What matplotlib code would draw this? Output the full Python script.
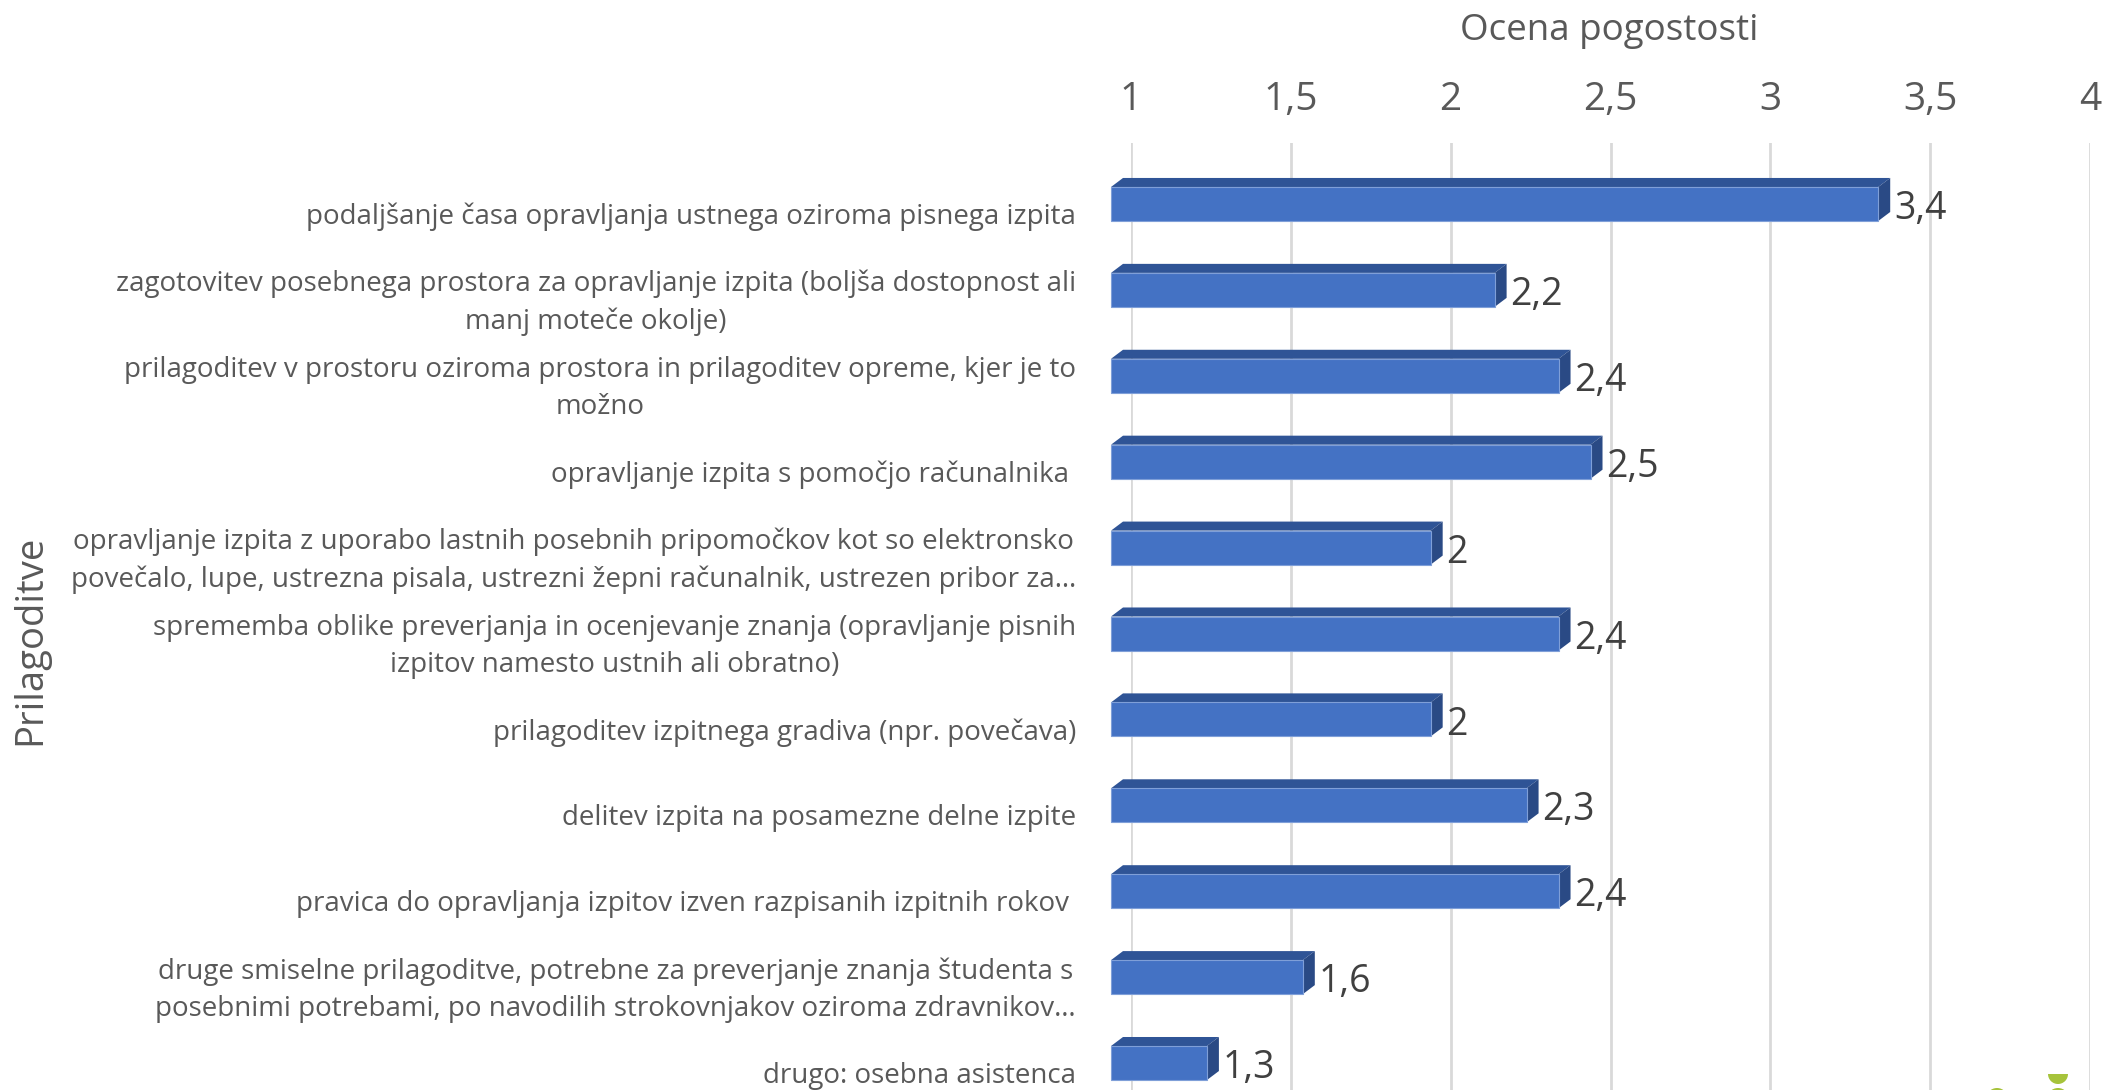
import matplotlib
matplotlib.use('Agg')
from matplotlib import pyplot as plt
from matplotlib.patches import Polygon, Wedge, Circle
import matplotlib.transforms as mtransforms

plt.rcParams['font.family'] = ['Open Sans', 'DejaVu Sans']

categories = [
    "podaljšanje časa opravljanja ustnega oziroma pisnega izpita",
    "zagotovitev posebnega prostora za opravljanje izpita (boljša dostopnost ali\nmanj moteče okolje)",
    "prilagoditev v prostoru oziroma prostora in prilagoditev opreme, kjer je to\nmožno",
    "opravljanje izpita s pomočjo računalnika ",
    "opravljanje izpita z uporabo lastnih posebnih pripomočkov kot so elektronsko\npovečalo, lupe, ustrezna pisala, ustrezni žepni računalnik, ustrezen pribor za…",
    "sprememba oblike preverjanja in ocenjevanje znanja (opravljanje pisnih\nizpitov namesto ustnih ali obratno)",
    "prilagoditev izpitnega gradiva (npr. povečava)",
    "delitev izpita na posamezne delne izpite",
    "pravica do opravljanja izpitov izven razpisanih izpitnih rokov ",
    "druge smiselne prilagoditve, potrebne za preverjanje znanja študenta s\nposebnimi potrebami, po navodilih strokovnjakov oziroma zdravnikov…",
    "drugo: osebna asistenca",
]
values = [3.4, 2.2, 2.4, 2.5, 2.0, 2.4, 2.0, 2.3, 2.4, 1.6, 1.3]
xticks = [1, 1.5, 2, 2.5, 3, 3.5, 4]
x_title = "Ocena pogostosti"
y_title = "Prilagoditve"

W, H = 2103, 1090
fig = plt.figure(figsize=(W / 100, H / 100), dpi=100)
ax = fig.add_axes([1131 / W, 0, (2090 - 1131) / W, 1 - 143 / H])

front_c = '#4472C4'
top_c = '#2F5496'
side_c = '#2A4A85'
ox = -0.0625     # front face shift (3d)
dx = 0.0375      # depth in x
dd = 0.105       # depth in y
h = 0.198        # half height of front face

for i, v in enumerate(values):
    x0, x1 = 1 + ox, v + ox
    front = Polygon([(x0, i - h), (x1, i - h), (x1, i + h), (x0, i + h)],
                    closed=True, fc=front_c, ec='#7f9fd8', lw=0.8, zorder=3, clip_on=False)
    top = Polygon([(x0, i - h), (x1, i - h), (x1 + dx, i - h - dd), (x0 + dx, i - h - dd)],
                  closed=True, fc=top_c, ec='none', zorder=3, clip_on=False)
    side = Polygon([(x1, i - h), (x1 + dx, i - h - dd), (x1 + dx, i + h - dd), (x1, i + h)],
                   closed=True, fc=side_c, ec='none', zorder=3, clip_on=False)
    for p in (top, side, front):
        ax.add_patch(p)
    ax.text(x1 + dx + 0.012, i + 0.06, f"{v:g}".replace('.', ','), fontsize=27,
            color='#404040', va='center', ha='left', zorder=4, clip_on=False)

ax.set_xlim(1, 4)
ax.set_ylim(10.314, -0.71)
ax.xaxis.tick_top()
ax.set_xticks(xticks)
ax.set_xticklabels([f"{t:g}".replace('.', ',') for t in xticks], fontsize=28, color='#595959')
ax.tick_params(axis='x', length=0, pad=17)
ax.set_yticks([])
ax.grid(axis='x', color='#D9D9D9', lw=2.0, zorder=0)
ax.set_axisbelow(True)
for s in ax.spines.values():
    s.set_visible(False)

# category labels
trans = mtransforms.blended_transform_factory(fig.transFigure, ax.transData)
for i, lab in enumerate(categories):
    ax.text(1076 / W, i + 0.15, lab, transform=trans, ha='right', va='center',
            multialignment='center', fontsize=20, color='#595959', linespacing=1.45,
            clip_on=False)

fig.text(1609 / W, 1 - 31 / H, x_title, fontsize=26.5, color='#595959', ha='center', va='center')
fig.text(30 / W, 1 - 640 / H, y_title, fontsize=27.5, color='#595959', ha='center', va='center',
         rotation=90)

# bit of the green logo peeking in at the bottom right
green = '#A6C33B'
fig.add_artist(Circle((1997, -9), 11, transform=None, fc=green, ec='none'))
fig.add_artist(Wedge((2058, 16), 10, 180, 360, transform=None, fc=green, ec='none'))
fig.add_artist(Circle((2058, -9), 11, transform=None, fc=green, ec='none'))

plt.savefig('out.png', dpi=100)
plt.close(fig)
